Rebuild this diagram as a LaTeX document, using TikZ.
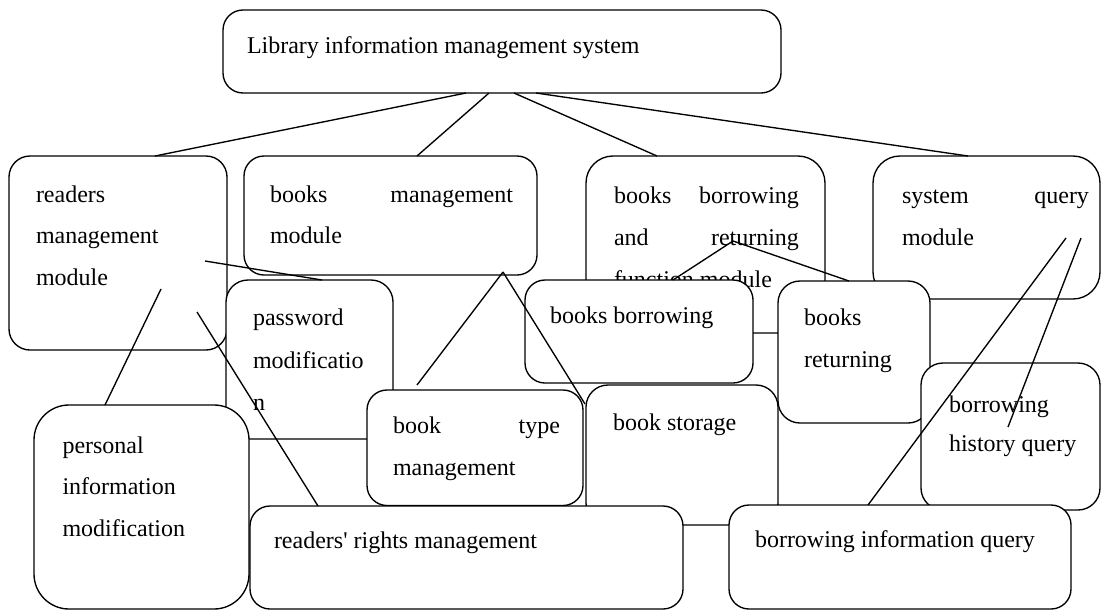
\documentclass[tikz,border=0pt]{standalone}
\usepackage{fontspec}
\setmainfont{Liberation Serif}
\tikzset{
  box/.style={draw, fill=white, line width=1.35pt, rounded corners=#1, inner sep=0pt, outer sep=0pt, anchor=north west},
  txt/.style={anchor=base west, inner sep=0pt, outer sep=0pt, font=\fontsize{24}{24}\selectfont},
  conn/.style={line width=1.35pt}
}
\newcommand\mybox[6]{\node[box=#6, minimum width={#4-#2}, minimum height={#5-#3}] (#1) at (#2,#3) {};}
\begin{document}
\begin{tikzpicture}[x=1pt,y=-1pt]
\useasboundingbox (0,0) rectangle (1103,611);
% boxes in stacking order, each with its text
\mybox{top}{223}{10}{781}{93}{20pt}
\node[txt] (ttop) at (247,53) {Library information management system};

\mybox{readers}{9}{156}{227}{350}{21pt}
\node[txt] (tr1) at (36,202) {readers};
\node[txt] (tr2) at (36,243.5) {management};
\node[txt] (tr3) at (36,285) {module};

\mybox{bmgmt}{244}{156}{537}{275}{20pt}
\node[txt] (tb1) at (270,202) {\makebox[243pt][s]{books management}};
\node[txt] (tb2) at (270,243.5) {module};

\mybox{func}{586}{156}{825}{333}{27pt}
\node[txt] (tf1) at (614,203) {\makebox[185pt][s]{books borrowing}};
\node[txt] (tf2) at (614,245) {\makebox[185pt][s]{and returning}};
\node[txt] (tf3) at (614,287) {function module};

\mybox{sysq}{873}{156}{1100}{299}{27pt}
\node[txt] (ts1) at (902,203) {\makebox[187pt][s]{system query}};
\node[txt] (ts2) at (902,245) {module};

\mybox{pwd}{226}{280}{393}{439}{22pt}
\node[txt] (tp1) at (253,325) {password};
\node[txt] (tp2) at (253,368) {modificatio};
\node[txt] (tp3) at (253,410) {n};

\mybox{pers}{34}{405}{249}{609}{35pt}
\node[txt] (te1) at (62.5,453) {personal};
\node[txt] (te2) at (62.5,494.5) {information};
\node[txt] (te3) at (62.5,536) {modification};

\mybox{btype}{367}{390}{583}{505.5}{20pt}
\node[txt] (tt1) at (393,433) {\makebox[167pt][s]{book type}};
\node[txt] (tt2) at (393,475) {management};

\mybox{bborrow}{525}{280}{753}{383}{20pt}
\node[txt] (tbb) at (550,323) {books borrowing};

\mybox{bret}{778}{281}{930}{423}{22pt}
\node[txt] (tbr1) at (804,325) {books};
\node[txt] (tbr2) at (804,367) {returning};

\mybox{hist}{921}{363}{1100}{510}{22pt}
\node[txt] (th1) at (949,412) {borrowing};
\node[txt] (th2) at (949,451) {history query};

\mybox{store}{586}{385}{778}{525}{22pt}
\node[txt] (tst) at (613,430) {book storage};

\mybox{rights}{250}{506}{683}{609}{20pt}
\node[txt] (trg) at (274,548) {readers\textquotesingle{} rights management};

\mybox{binfo}{729}{505}{1071}{609}{20pt}
\node[txt] (tbi) at (755,547) {borrowing information query};

% connector end points
\coordinate (a1) at (466,93);  \coordinate (b1) at (155,156);
\coordinate (a2) at (489,93);  \coordinate (b2) at (417,156);
\coordinate (a3) at (514,93);  \coordinate (b3) at (657,156);
\coordinate (a4) at (536,93);  \coordinate (b4) at (968,156);
\coordinate (a5) at (205,261); \coordinate (b5) at (322,280);
\coordinate (a6) at (161,289); \coordinate (b6) at (105,405);
\coordinate (a7) at (197,312); \coordinate (b7) at (318,506);
\coordinate (a8) at (503,272); \coordinate (b8) at (417,385);
\coordinate (b9) at (585,404);
\coordinate (a10) at (733,241); \coordinate (b10) at (673,280);
\coordinate (b11) at (849,281);
\coordinate (a12) at (1066,238); \coordinate (b12) at (868,505);
\coordinate (a13) at (1081,238); \coordinate (b13) at (1008,427);

\draw[conn] (a1) -- (b1);
\draw[conn] (a2) -- (b2);
\draw[conn] (a3) -- (b3);
\draw[conn] (a4) -- (b4);
\draw[conn] (a5) -- (b5);
\draw[conn] (a6) -- (b6);
\draw[conn] (a7) -- (b7);
\draw[conn] (a8) -- (b8);
\draw[conn] (a8) -- (b9);
\draw[conn] (a10) -- (b10);
\draw[conn] (a10) -- (b11);
\draw[conn] (a12) -- (b12);
\draw[conn] (a13) -- (b13);
\end{tikzpicture}
\end{document}
